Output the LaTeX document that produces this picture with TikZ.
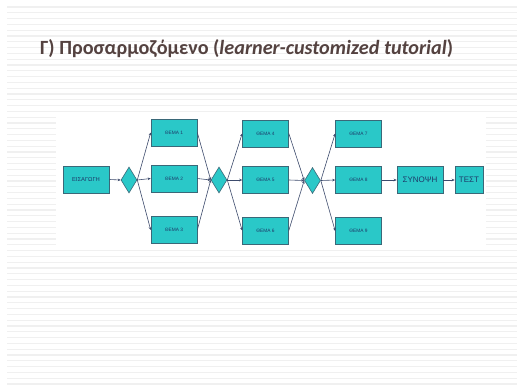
\documentclass[tikz,border=0pt]{standalone}
\usepackage{fontspec}
\setmainfont{Liberation Sans}
\newfontfamily\titlefont{Carlito}
\usetikzlibrary{shapes.geometric,arrows.meta,shadows}

\definecolor{stripegray}{RGB}{240,240,240}
\definecolor{titlebrown}{RGB}{84,66,64}
\definecolor{boxfill}{RGB}{42,200,200}
\definecolor{boxline}{RGB}{58,104,120}
\definecolor{boxtext}{RGB}{30,58,105}
\definecolor{linkcol}{RGB}{60,74,108}

\tikzset{
  x=1pt, y=-1pt,
  stripe/.style={draw=stripegray, line width=1.1pt},
  topic/.style={draw=boxline, line width=0.6pt, fill=boxfill,
    minimum width=46pt, minimum height=27pt, inner sep=0pt,
    text=boxtext, font=\fontsize{4.8}{5}\selectfont,
    drop shadow={shadow xshift=0.8pt, shadow yshift=-0.8pt, opacity=0.25}},
  bigtopic/.style={topic, font=\fontsize{8}{9}\selectfont},
  gate/.style={diamond, draw=boxline, line width=0.6pt, fill=boxfill,
    minimum width=16pt, minimum height=26pt, inner sep=0pt},
  link/.style={draw=linkcol, line width=0.6pt,
    -{Stealth[length=3pt,width=2.6pt]}}
}

\begin{document}
\begin{tikzpicture}
  % page background and ruled stripes
  \fill[white] (0,0) rectangle (517,388);
  \useasboundingbox (0,0) rectangle (517,388);
  \foreach \yy in {7,12.8,...,388} \draw[stripe] (7,\yy) -- (517,\yy);

  % heading
  \node[anchor=base west, text=titlebrown, inner sep=0pt,
        font=\titlefont\bfseries\fontsize{20.2}{22}\selectfont] (title) at (40,54.5)
    {Γ) Προσαρμοζόμενο (\textit{learner-customized tutorial})};

  % white panel behind the flow chart
  \fill[white] (56,113) rectangle (486,248);

  % nodes
  \node[topic, font=\fontsize{5.8}{6}\selectfont] (intro) at (86,179.5) {ΕΙΣΑΓΩΓΗ};
  \node[gate] (g1) at (129,180) {};
  \node[topic] (t1) at (174,132.5) {ΘΕΜΑ 1};
  \node[topic] (t2) at (174,178.5) {ΘΕΜΑ 2};
  \node[topic] (t3) at (174,230) {ΘΕΜΑ 3};
  \node[gate] (g2) at (219,180) {};
  \node[topic] (t4) at (265.5,133.5) {ΘΕΜΑ 4};
  \node[topic] (t5) at (265.5,180) {ΘΕΜΑ 5};
  \node[topic] (t6) at (265.5,230.5) {ΘΕΜΑ 6};
  \node[gate] (g3) at (312.5,180.5) {};
  \node[topic] (t7) at (358.5,133.5) {ΘΕΜΑ 7};
  \node[topic] (t8) at (358.5,180) {ΘΕΜΑ 8};
  \node[topic] (t9) at (358.5,231) {ΘΕΜΑ 9};
  \node[bigtopic] (sum) at (420,180) {ΣΥΝΟΨΗ};
  \node[bigtopic, minimum width=28pt] (test) at (469,180) {ΤΕΣΤ};

  % connectors
  \draw[link] (intro.east) -- (g1.west);
  \foreach \t in {t1,t2,t3} {
    \draw[link] (g1.east) -- (\t.west);
    \draw[link] (\t.east) -- (g2.west);
  }
  \foreach \t in {t4,t5,t6} {
    \draw[link] (g2.east) -- (\t.west);
    \draw[link] (\t.east) -- (g3.west);
  }
  \foreach \t in {t7,t8,t9} \draw[link] (g3.east) -- (\t.west);
  \draw[link] (t8.east) -- (sum.west);
  \draw[link] (sum.east) -- (test.west);
\end{tikzpicture}
\end{document}
